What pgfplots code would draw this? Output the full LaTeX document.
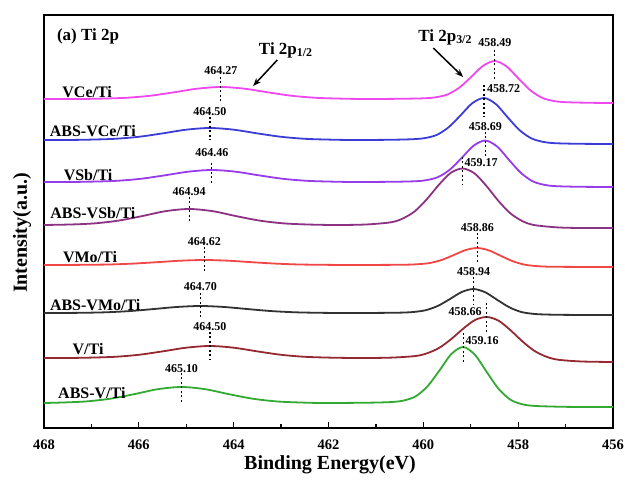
\documentclass[border=0pt]{standalone}
\usepackage{fontspec}
\setmainfont{Liberation Serif}
\usepackage{pgfplots}
\pgfplotsset{compat=1.18}
\usetikzlibrary{arrows.meta}
\definecolor{cVCe}{RGB}{238,72,238}
\definecolor{cAVCe}{RGB}{60,60,215}
\definecolor{cVSb}{RGB}{150,60,235}
\definecolor{cAVSb}{RGB}{140,50,130}
\definecolor{cVMo}{RGB}{240,70,70}
\definecolor{cAVMo}{RGB}{50,50,50}
\definecolor{cV}{RGB}{150,40,50}
\definecolor{cAV}{RGB}{50,170,50}
\newcommand{\pk}{\fontsize{12}{12}\selectfont\bfseries}
\newcommand{\cl}{\fontsize{16}{16}\selectfont\bfseries}
\begin{document}
\begin{tikzpicture}
\useasboundingbox (-44pt,-53pt) rectangle (581pt,428pt);
\begin{axis}[at={(0pt,0pt)}, anchor=south west, scale only axis,
  width=569pt, height=413pt, x dir=reverse,
  xmin=456, xmax=468, ymin=0, ymax=413,
  xtick={456,458,...,468}, minor xtick={457,459,...,467},
  xtick pos=bottom, ytick=\empty, tick align=inside,
  major tick length=6pt, minor tick length=3.5pt,
  every tick/.style={black, line width=1.2pt},
  axis line style={line width=1.5pt},
  /pgf/number format/assume math mode=true,
  xticklabel style={font=\fontsize{14.5}{14.5}\selectfont\bfseries, anchor=base, yshift=-22pt},
  clip=false]
% curves
\addplot[color=cVCe, line width=1.8pt, smooth] coordinates {(468,329) (467.27,329) (466.77,329.4) (466.27,330.2) (465.77,332.2) (465.27,335.6) (464.77,339.3) (464.27,341) (463.77,339.3) (463.27,335.6) (462.77,332.2) (462.27,330.2) (461.77,329.4) (461.27,329) (460.49,329.2) (459.99,329.7) (459.74,330.7) (459.49,333.5) (459.24,340.4) (458.99,351.1) (458.74,362.2) (458.49,367) (458.24,361.4) (457.99,349.3) (457.74,337.6) (457.49,330.1) (457.24,326.9) (456.99,325.8) (456.49,325.2) (456,325)};
\addplot[color=cAVCe, line width=1.8pt, smooth] coordinates {(468,288) (467.5,288) (467,288.4) (466.5,289.2) (466,291.2) (465.5,294.6) (465,298.3) (464.5,300) (464,298.3) (463.5,294.6) (463,291.2) (462.5,289.2) (462,288.4) (461.5,288) (460.72,288.2) (460.22,288.8) (459.97,289.9) (459.72,293) (459.47,300.6) (459.22,312.4) (458.97,324.7) (458.72,330) (458.47,323.9) (458.22,310.6) (457.97,297.8) (457.72,289.6) (457.47,286.1) (457.22,284.8) (456.72,284.2) (456,284)};
\addplot[color=cVSb, line width=1.8pt, smooth] coordinates {(468,246) (467.46,246) (466.96,246.4) (466.46,247.2) (465.96,249.2) (465.46,252.6) (464.96,256.3) (464.46,258) (463.96,256.3) (463.46,252.6) (462.96,249.2) (462.46,247.2) (461.96,246.4) (461.46,246) (460.69,246.2) (460.19,246.7) (459.94,247.8) (459.69,250.9) (459.44,258.4) (459.19,270.1) (458.94,282.3) (458.69,287.5) (458.44,281.3) (458.19,267.9) (457.94,255) (457.69,246.6) (457.44,243.1) (457.19,241.8) (456.69,241.2) (456,241)};
\addplot[color=cAVSb, line width=1.8pt, smooth] coordinates {(468,203) (467.44,203.5) (466.94,204.6) (466.44,207.3) (465.94,211.8) (465.44,216.8) (464.94,219) (464.44,216.8) (463.94,211.8) (463.44,207.3) (462.94,204.6) (462.44,203.5) (461.94,203) (461.67,203) (461.17,203.6) (460.67,205.8) (460.42,209.8) (460.17,217.1) (459.92,229.1) (459.67,243.3) (459.42,255.2) (459.17,259.5) (458.92,254.6) (458.67,242.1) (458.42,227.3) (458.17,214.9) (457.92,207.1) (457.67,203) (457.17,200.6) (456.67,200) (456,200)};
\addplot[color=cVMo, line width=1.8pt, smooth] coordinates {(468,163) (467.62,163) (467.12,163.2) (466.62,163.5) (466.12,164.4) (465.62,165.8) (465.12,167.3) (464.62,168) (464.12,167.3) (463.62,165.8) (463.12,164.4) (462.62,163.5) (462.12,163.2) (461.62,163) (460.86,163.1) (460.36,163.3) (460.11,163.8) (459.86,165) (459.61,168.1) (459.36,172.9) (459.11,177.9) (458.86,180) (458.61,177.5) (458.36,172) (458.11,166.7) (457.86,163.3) (457.61,161.9) (457.36,161.3) (456.86,161.1) (456,161)};
\addplot[color=cAVMo, line width=1.8pt, smooth] coordinates {(468,115) (467.7,115) (467.2,115.2) (466.7,115.7) (466.2,116.9) (465.7,118.9) (465.2,121) (464.7,122) (464.2,121) (463.7,118.9) (463.2,116.9) (462.7,115.7) (462.2,115.2) (461.7,115) (460.94,115.1) (460.44,115.4) (460.19,116.1) (459.94,117.9) (459.69,122.2) (459.44,128.9) (459.19,136) (458.94,139) (458.69,135.6) (458.44,128.1) (458.19,120.8) (457.94,116.1) (457.69,114.2) (457.44,113.5) (456.94,113.1) (456,113)};
\addplot[color=cV, line width=1.8pt, smooth] coordinates {(468,70) (467.5,70) (467,70.4) (466.5,71.2) (466,73.2) (465.5,76.6) (465,80.3) (464.5,82) (464,80.3) (463.5,76.6) (463,73.2) (462.5,71.2) (462,70.4) (461.5,70) (461.16,70) (460.66,70.4) (460.16,72) (459.91,74.9) (459.66,80.3) (459.41,89) (459.16,99.3) (458.91,108) (458.66,111) (458.41,107.2) (458.16,97.7) (457.91,86.6) (457.66,77.2) (457.41,71.4) (457.16,68.3) (456.66,66.5) (456,66)};
\addplot[color=cAV, line width=1.8pt, smooth] coordinates {(468,25) (467.6,25.5) (467.1,26.6) (466.6,29.3) (466.1,33.8) (465.6,38.8) (465.1,41) (464.6,38.8) (464.1,33.8) (463.6,29.3) (463.1,26.6) (462.6,25.5) (462.1,25) (461.16,25.3) (460.66,26) (460.41,27.5) (460.16,31.7) (459.91,41.8) (459.66,57.5) (459.41,73.9) (459.16,81) (458.91,73.1) (458.66,55.8) (458.41,39) (458.16,28.2) (457.91,23.7) (457.66,22.1) (457.16,21.3) (456.66,21) (456,21)};
% dotted peak markers
\addplot[black, line width=1.1pt, dash pattern=on 2pt off 2.5pt] coordinates {(464.27,351) (464.27,325)};
\addplot[black, line width=1.1pt, dash pattern=on 2pt off 2.5pt] coordinates {(464.50,311) (464.50,288)};
\addplot[black, line width=1.1pt, dash pattern=on 2pt off 2.5pt] coordinates {(464.46,265) (464.46,243)};
\addplot[black, line width=1.1pt, dash pattern=on 2pt off 2.5pt] coordinates {(464.94,231) (464.94,206)};
\addplot[black, line width=1.1pt, dash pattern=on 2pt off 2.5pt] coordinates {(464.62,181) (464.62,155)};
\addplot[black, line width=1.1pt, dash pattern=on 2pt off 2.5pt] coordinates {(464.70,135) (464.70,110)};
\addplot[black, line width=1.1pt, dash pattern=on 2pt off 2.5pt] coordinates {(464.50,96) (464.50,68)};
\addplot[black, line width=1.1pt, dash pattern=on 2pt off 2.5pt] coordinates {(465.10,55) (465.10,25)};
\addplot[black, line width=1.1pt, dash pattern=on 2pt off 2.5pt] coordinates {(458.49,378) (458.49,348)};
\addplot[black, line width=1.1pt, dash pattern=on 2pt off 2.5pt] coordinates {(458.72,343) (458.72,311)};
\addplot[black, line width=1.1pt, dash pattern=on 2pt off 2.5pt] coordinates {(458.69,296) (458.69,271)};
\addplot[black, line width=1.1pt, dash pattern=on 2pt off 2.5pt] coordinates {(459.17,271) (459.17,243)};
\addplot[black, line width=1.1pt, dash pattern=on 2pt off 2.5pt] coordinates {(458.86,195) (458.86,166)};
\addplot[black, line width=1.1pt, dash pattern=on 2pt off 2.5pt] coordinates {(458.94,151) (458.94,123)};
\addplot[black, line width=1.1pt, dash pattern=on 2pt off 2.5pt] coordinates {(458.66,125) (458.66,96)};
\addplot[black, line width=1.1pt, dash pattern=on 2pt off 2.5pt] coordinates {(459.16,95) (459.16,65)};
% peak labels
\node[font=\pk] at (464.27,357) {464.27};
\node[font=\pk] at (464.50,316) {464.50};
\node[font=\pk] at (464.46,275) {464.46};
\node[font=\pk] at (464.94,236) {464.94};
\node[font=\pk] at (464.62,186) {464.62};
\node[font=\pk] at (464.70,141) {464.70};
\node[font=\pk] at (464.50,101) {464.50};
\node[font=\pk] at (465.10,59) {465.10};
\node[font=\pk] at (458.49,385) {458.49};
\node[font=\pk, anchor=west, inner sep=0pt] at (458.66,339) {458.72};
\node[font=\pk] at (458.69,301) {458.69};
\node[font=\pk] at (458.78,265) {459.17};
\node[font=\pk] at (458.86,200) {458.86};
\node[font=\pk] at (458.94,156) {458.94};
\node[font=\pk] at (459.12,116) {458.66};
\node[font=\pk] at (458.76,87) {459.16};
% curve labels
\node[font=\cl] at (467.09,336) {VCe/Ti};
\node[font=\cl] at (466.97,297) {ABS-VCe/Ti};
\node[font=\cl] at (467.07,253) {VSb/Ti};
\node[font=\cl] at (466.97,215) {ABS-VSb/Ti};
\node[font=\cl] at (467.03,171) {VMo/Ti};
\node[font=\cl] at (466.92,123) {ABS-VMo/Ti};
\node[font=\cl] at (467.07,79) {V/Ti};
\node[font=\cl] at (466.99,35) {ABS-V/Ti};
% titles and arrows
\node[font=\fontsize{17}{17}\selectfont\bfseries] at (467.07,392) {(a) Ti 2p};
\node[font=\fontsize{17}{17}\selectfont\bfseries] at (462.9,378) {Ti 2p\textsubscript{1/2}};
\node[font=\fontsize{17}{17}\selectfont\bfseries] at (459.54,391) {Ti 2p\textsubscript{3/2}};
\draw[-{Stealth[length=8pt,width=6pt]}, line width=1.5pt] (463.08,368) -- (463.59,342);
\draw[-{Stealth[length=8pt,width=6pt]}, line width=1.5pt] (459.79,380) -- (459.16,351);
\end{axis}
\node[font=\fontsize{20}{20}\selectfont\bfseries, anchor=base] at (286pt,-42pt) {Binding Energy(eV)};
\node[font=\fontsize{20}{20}\selectfont\bfseries, rotate=90] at (-22pt,195pt) {Intensity(a.u.)};
\end{tikzpicture}
\end{document}
